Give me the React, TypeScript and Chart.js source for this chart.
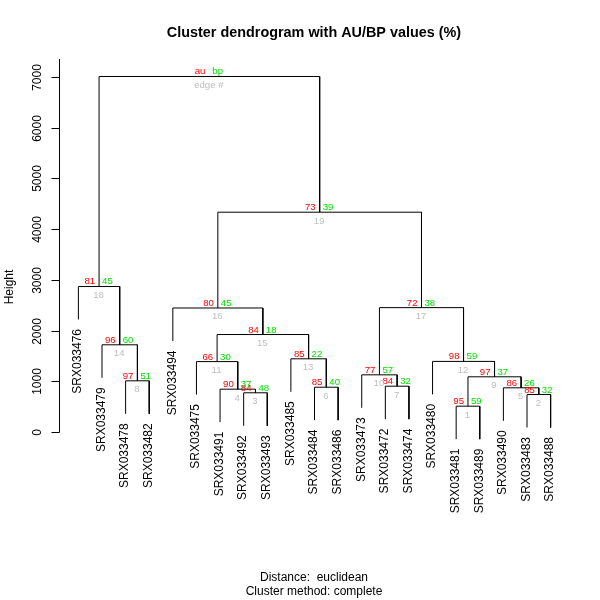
import React, { useEffect, useRef } from "react";
import { Chart, registerables } from "chart.js";

Chart.register(...registerables);

const leafLabels = [
  "SRX033476", "SRX033479", "SRX033478", "SRX033482", "SRX033494", "SRX033475",
  "SRX033491", "SRX033492", "SRX033493", "SRX033485", "SRX033484", "SRX033486",
  "SRX033473", "SRX033472", "SRX033474", "SRX033480", "SRX033481", "SRX033489",
  "SRX033490", "SRX033483", "SRX033488",
];

// negative = leaf (1-based display position), positive = earlier merge (edge #)
const merges: [number, number][] = [
  [-17, -18], [-20, -21], [-8, -9], [-7, 3], [-19, 2], [-11, -12], [-14, -15],
  [-3, -4], [1, 5], [-13, 7], [-6, 4], [-16, 9], [-10, 6], [-2, 8], [11, 13],
  [-5, 15], [10, 12], [-1, 14], [16, 17], [18, 19],
];

const mergeHeights = [
  519, 749, 783, 854, 881, 893, 913, 1019, 1098, 1137, 1398, 1402, 1453, 1729,
  1932, 2455, 2462, 2879, 4344, 7020,
];

const auValues = [95, 85, 84, 90, 86, 85, 84, 97, 97, 77, 66, 98, 85, 96, 84, 80, 72, 81, 73];
const bpValues = [59, 32, 48, 37, 26, 40, 32, 51, 37, 57, 30, 59, 22, 60, 18, 45, 38, 45, 39];

const yTicks = [0, 1000, 2000, 3000, 4000, 5000, 6000, 7000];

const titleText = "Cluster dendrogram with AU/BP values (%)";
const subText1 = "Distance:  euclidean";
const subText2 = "Cluster method: complete";
const yTitle = "Height";

const FONT = "'Liberation Sans', Arial, sans-serif";

export default function App() {
  const ref = useRef<HTMLCanvasElement | null>(null);

  useEffect(() => {
    if (!ref.current) return;
    const hang = 0.1 * (Math.max(...mergeHeights) - Math.min(...mergeHeights));
    const nodeX: number[] = [];
    const xOf = (id: number) => (id < 0 ? -id : nodeX[id - 1]);
    merges.forEach(([a, b]) => nodeX.push((xOf(a) + xOf(b)) / 2));
    const bottomOf = (id: number, parentH: number) =>
      id < 0 ? parentH - hang : mergeHeights[id - 1];

    const datasets = merges.map(([a, b], i) => {
      const h = mergeHeights[i];
      return {
        data: [
          { x: xOf(a), y: bottomOf(a, h) },
          { x: xOf(a), y: h },
          { x: xOf(b), y: h },
          { x: xOf(b), y: bottomOf(b, h) },
        ],
        showLine: true,
        borderColor: "#000000",
        borderWidth: 1,
        pointRadius: 0,
        fill: false,
      };
    });

    const leafEnd: number[] = new Array(leafLabels.length).fill(0);
    merges.forEach(([a, b], i) => {
      [a, b].forEach((id) => {
        if (id < 0) leafEnd[-id - 1] = mergeHeights[i] - hang;
      });
    });

    const crisp = {
      id: "crisp",
      beforeDatasetsDraw(chart: any) {
        chart.ctx.save();
        chart.ctx.translate(0.5, 0.5);
      },
      afterDatasetsDraw(chart: any) {
        chart.ctx.restore();
      },
    };

    const plugin = {
      id: "dendroText",
      afterDraw(chart: any) {
        const ctx = chart.ctx as CanvasRenderingContext2D;
        const xs = chart.scales.x;
        const ys = chart.scales.y;
        const area = chart.chartArea;
        ctx.save();
        ctx.strokeStyle = "#000";
        ctx.lineWidth = 1;
        const ax = Math.round(area.left) + 0.5;
        ctx.beginPath();
        ctx.moveTo(ax, area.top);
        ctx.lineTo(ax, Math.round(ys.getPixelForValue(0)) + 0.5);
        ctx.stroke();
        ctx.fillStyle = "#000";
        ctx.font = `12px ${FONT}`;
        yTicks.forEach((v) => {
          const py = Math.round(ys.getPixelForValue(v)) + 0.5;
          ctx.beginPath();
          ctx.moveTo(ax - 8, py);
          ctx.lineTo(ax, py);
          ctx.stroke();
          ctx.save();
          ctx.translate(37.5, py);
          ctx.rotate(-Math.PI / 2);
          ctx.textAlign = "center";
          ctx.textBaseline = "middle";
          ctx.fillText(String(v), 0, 0);
          ctx.restore();
        });
        ctx.save();
        ctx.translate(10, 287);
        ctx.rotate(-Math.PI / 2);
        ctx.textAlign = "center";
        ctx.textBaseline = "middle";
        ctx.fillText(yTitle, 0, 0);
        ctx.restore();

        leafLabels.forEach((lab, i) => {
          const px = xs.getPixelForValue(i + 1);
          const py = ys.getPixelForValue(leafEnd[i]) + 10;
          ctx.save();
          ctx.translate(px, py);
          ctx.rotate(-Math.PI / 2);
          ctx.textAlign = "right";
          ctx.textBaseline = "middle";
          ctx.fillStyle = "#000";
          ctx.fillText(lab, 0, 0);
          ctx.restore();
        });

        ctx.font = `9.6px ${FONT}`;
        ctx.textBaseline = "alphabetic";
        merges.forEach((_, i) => {
          const px = xs.getPixelForValue(nodeX[i]);
          const py = ys.getPixelForValue(mergeHeights[i]);
          const isRoot = i === merges.length - 1;
          const au = isRoot ? "au" : String(auValues[i]);
          const bp = isRoot ? "bp" : String(bpValues[i]);
          const ed = isRoot ? "edge #" : String(i + 1);
          ctx.textAlign = "right";
          ctx.fillStyle = "#FF0000";
          ctx.fillText(au, px - 3.5, py - 1.5);
          ctx.textAlign = "left";
          ctx.fillStyle = "#00E000";
          ctx.fillText(bp, px + 3.5, py - 1.5);
          ctx.textAlign = "center";
          ctx.fillStyle = "#BEBEBE";
          ctx.fillText(ed, px, py + 12);
        });

        const cx = (area.left + area.right) / 2;
        ctx.fillStyle = "#000";
        ctx.textAlign = "center";
        ctx.textBaseline = "middle";
        ctx.font = `bold 14.4px ${FONT}`;
        ctx.fillText(titleText, cx, 33);
        ctx.font = `12px ${FONT}`;
        ctx.fillText(subText1, cx, 578);
        ctx.fillText(subText2, cx, 592);
        ctx.restore();
      },
    };

    const chart = new Chart(ref.current, {
      type: "scatter",
      data: { datasets: datasets as any },
      options: {
        animation: false,
        responsive: false,
        devicePixelRatio: 1,
        layout: { padding: { left: 59, right: 31, top: 59, bottom: 100 } },
        scales: {
          x: { type: "linear", min: 0.2, max: 21.8, display: false },
          y: { type: "linear", min: -1341, max: 7355, display: false },
        },
        plugins: {
          legend: { display: false },
          tooltip: { enabled: false },
          title: { display: false },
        },
      },
      plugins: [crisp, plugin],
    });
    return () => chart.destroy();
  }, []);

  return (
    <div style={{ position: "fixed", left: 0, top: 0, width: 600, height: 600, background: "#fff" }}>
      <canvas ref={ref} width={600} height={600} style={{ width: 600, height: 600 }} />
    </div>
  );
}
